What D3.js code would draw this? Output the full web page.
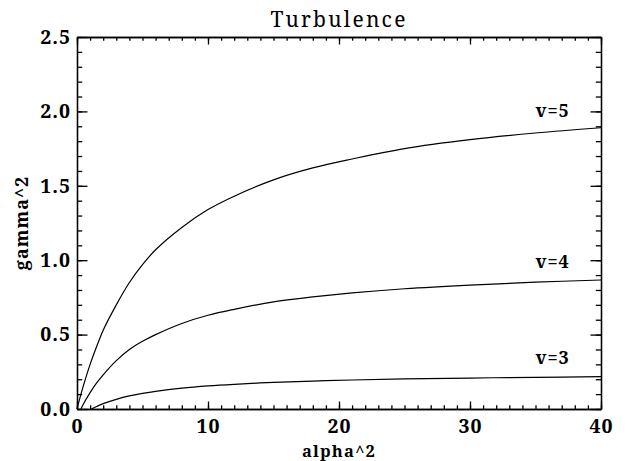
<!DOCTYPE html>
<html>
<head>
<meta charset="utf-8">
<script src="https://cdn.jsdelivr.net/npm/d3@7"></script>
<style>
  body { margin: 0; background: #fff; }
  svg { display: block; }
  svg text { font-family: "Noto Serif", "Liberation Serif", serif; fill: #000; }
  .axis path, .axis line { stroke: #000; stroke-width: 1.3; }
  .axis text { font-size: 19.5px; font-weight: bold; letter-spacing: 1px; }
</style>
</head>
<body>
<div id="chart"></div>
<script>
// values
var alpha_v5 = [0, 0.25, 0.5, 1, 1.5, 2, 3, 4, 5, 6, 8, 10, 12, 15, 18, 21, 25, 30, 35, 40];
var gamma_v5 = [0, 0.083, 0.16, 0.30, 0.42, 0.53, 0.70, 0.85, 0.97, 1.07, 1.22, 1.34, 1.43, 1.54, 1.62, 1.68, 1.75, 1.81, 1.855, 1.89];

var alpha_v4 = [0.3, 0.5, 1, 1.5, 2, 3, 4, 5, 6, 8, 10, 12, 15, 18, 21, 25, 30, 35, 40];
var gamma_v4 = [0, 0.035, 0.11, 0.175, 0.23, 0.325, 0.40, 0.455, 0.50, 0.575, 0.63, 0.67, 0.72, 0.753, 0.78, 0.808, 0.833, 0.852, 0.867];

var alpha_v3 = [1.1, 1.5, 2, 3, 4, 5, 6, 8, 10, 12, 15, 18, 21, 25, 30, 35, 40];
var gamma_v3 = [0, 0.017, 0.036, 0.065, 0.088, 0.105, 0.119, 0.14, 0.155, 0.166, 0.179, 0.188, 0.195, 0.202, 0.208, 0.213, 0.217];

var series_names = ['v=5', 'v=4', 'v=3'];
var label_x = [35, 35, 35];
var label_y = [1.96, 0.95, 0.30];

var x_ticks = [0, 10, 20, 30, 40];
var y_ticks = [0.0, 0.5, 1.0, 1.5, 2.0, 2.5];

var total_width = 627, total_height = 461;
var margin = {top: 37, right: 26, bottom: 52, left: 77};
var draw_width = total_width - margin.left - margin.right;
var draw_height = total_height - margin.top - margin.bottom;

var svg = d3.select('#chart').append('svg')
    .attr('width', total_width)
    .attr('height', total_height);

var draw_area = svg.append('g')
    .attr('transform', 'translate(' + margin.left + ',' + margin.top + ')');

var scale_x = d3.scaleLinear().domain([0, 40]).range([0, draw_width]);
var scale_y = d3.scaleLinear().domain([0, 2.5]).range([draw_height, 0]);

// minor ticks first (inward), all four sides
var x_minor = d3.range(0, 40.01, 1);
var y_minor = d3.range(0, 2.501, 0.1);

draw_area.append('g').attr('class', 'axis')
    .attr('transform', 'translate(0,' + draw_height + ')')
    .call(d3.axisBottom(scale_x).tickValues(x_minor).tickSizeInner(-3.7).tickSizeOuter(0).tickFormat(''));
draw_area.append('g').attr('class', 'axis')
    .call(d3.axisTop(scale_x).tickValues(x_minor).tickSizeInner(-3.7).tickSizeOuter(0).tickFormat(''));
draw_area.append('g').attr('class', 'axis')
    .call(d3.axisLeft(scale_y).tickValues(y_minor).tickSizeInner(-5.2).tickSizeOuter(0).tickFormat(''));
draw_area.append('g').attr('class', 'axis')
    .attr('transform', 'translate(' + draw_width + ',0)')
    .call(d3.axisRight(scale_y).tickValues(y_minor).tickSizeInner(-5.2).tickSizeOuter(0).tickFormat(''));

// major ticks
var axis_x = d3.axisBottom(scale_x).tickValues(x_ticks).tickSizeInner(-7.5).tickSizeOuter(0)
    .tickPadding(10).tickFormat(d3.format('d'));
draw_area.append('g').attr('class', 'axis')
    .attr('transform', 'translate(0,' + draw_height + ')')
    .call(axis_x);
draw_area.append('g').attr('class', 'axis')
    .call(d3.axisTop(scale_x).tickValues(x_ticks).tickSizeInner(-7.5).tickSizeOuter(0).tickFormat(''));

var axis_y = d3.axisLeft(scale_y).tickValues(y_ticks).tickSizeInner(-10.5).tickSizeOuter(0)
    .tickPadding(6).tickFormat(d3.format('.1f'));
draw_area.append('g').attr('class', 'axis')
    .call(axis_y);
draw_area.append('g').attr('class', 'axis')
    .attr('transform', 'translate(' + draw_width + ',0)')
    .call(d3.axisRight(scale_y).tickValues(y_ticks).tickSizeInner(-10.5).tickSizeOuter(0).tickFormat(''));

// curves
var all_series = [
    d3.zip(alpha_v5, gamma_v5),
    d3.zip(alpha_v4, gamma_v4),
    d3.zip(alpha_v3, gamma_v3)
];

var line = d3.line()
    .x(function(d) { return scale_x(d[0]); })
    .y(function(d) { return scale_y(d[1]); })
    .curve(d3.curveCatmullRom.alpha(0.5));

draw_area.selectAll('.curve')
    .data(all_series)
    .enter()
  .append('path')
    .attr('class', 'curve')
    .attr('d', line)
    .attr('fill', 'none')
    .attr('stroke', '#000')
    .attr('stroke-width', 1.2);

draw_area.selectAll('.curve-label')
    .data(series_names)
    .enter()
  .append('text')
    .attr('class', 'curve-label')
    .attr('x', function(d, i) { return scale_x(label_x[i]); })
    .attr('y', function(d, i) { return scale_y(label_y[i]); })
    .attr('font-size', 18)
    .attr('font-weight', 'bold')
    .attr('letter-spacing', 1)
    .text(function(d) { return d; });

// title and axis titles
svg.append('text')
    .attr('x', margin.left + draw_width / 2)
    .attr('y', 27)
    .attr('text-anchor', 'middle')
    .attr('font-size', 21)
    .attr('letter-spacing', 2.2)
    .text('Turbulence');

svg.append('text')
    .attr('x', margin.left + draw_width / 2)
    .attr('y', 457)
    .attr('text-anchor', 'middle')
    .attr('font-size', 16.5)
    .attr('font-weight', 'bold')
    .attr('letter-spacing', 1.2)
    .text('alpha^2');

svg.append('text')
    .attr('transform', 'translate(28,' + (margin.top + draw_height / 2) + ') rotate(-90)')
    .attr('text-anchor', 'middle')
    .attr('font-size', 18)
    .attr('font-weight', 'bold')
    .attr('letter-spacing', 1)
    .text('gamma^2');
</script>
</body>
</html>
